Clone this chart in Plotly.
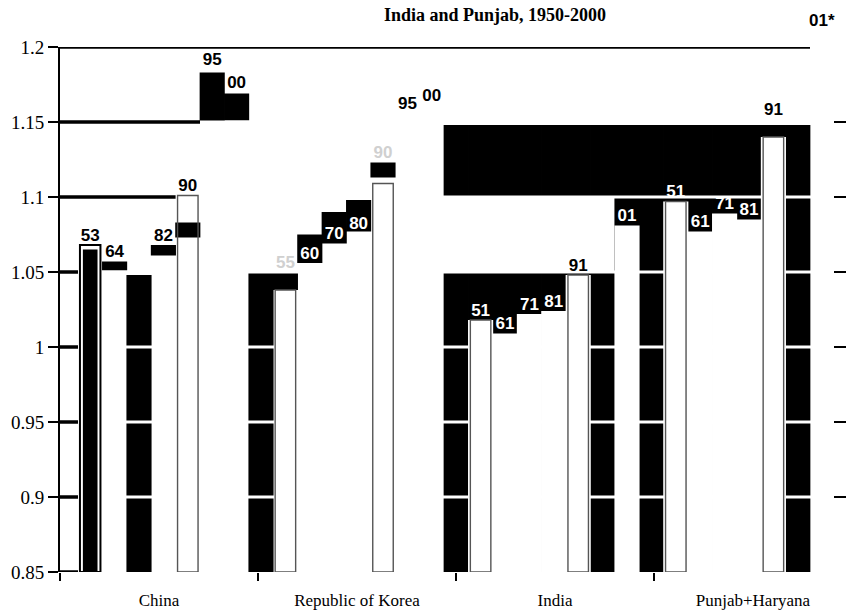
import plotly.graph_objects as go

# ---------------- data ----------------
FLOOR = 0.85
groups = ["China", "Republic of Korea", "India", "Punjab+Haryana"]

china_years = ["53", "64", "", "82", "90", "95", "00"]
china_ratio = [1.068, 1.057, None, 1.068, 1.101, 1.185, 1.170]
china_outline = [1.068, None, None, None, 1.101, None, None]
china_shade_lo = [None, 1.051, 0.85, 1.061, 1.073, 1.150, 1.151]
china_shade_hi = [None, 1.057, 1.048, 1.068, 1.083, 1.183, 1.169]
china_upper_lo = [None] * 7
china_upper_hi = [None] * 7

korea_years = ["", "55", "60", "70", "80", "90", "95", "00"]
korea_ratio = [None, 1.050, 1.056, 1.069, 1.076, 1.123, 1.156, 1.161]
korea_outline = [None, 1.038, None, None, None, 1.109, None, None]
korea_shade_lo = [0.85, 1.038, 1.056, 1.069, 1.077, 1.113, None, None]
korea_shade_hi = [1.05, 1.05, 1.075, 1.090, 1.098, 1.123, None, None]
korea_upper_lo = [None] * 8
korea_upper_hi = [None] * 8

india_years = ["", "51", "61", "71", "81", "91", "", "01"]
india_ratio = [None, 1.018, 1.009, 1.022, 1.024, 1.048, None, 1.081]
india_outline = [None, 1.018, None, None, None, 1.048, None, None]
india_shade_lo = [0.85, 0.85, 0.85, 0.85, 0.85, 0.85, 0.85, 0.85]
india_shade_hi = [1.05, 1.05, 1.05, 1.05, 1.05, 1.05, 1.05, 1.10]
india_upper_lo = [1.10] * 8
india_upper_hi = [1.148] * 8

punjab_years = ["", "51", "61", "71", "81", "91", "", "01*"]
punjab_ratio = [None, 1.097, 1.077, 1.089, 1.085, 1.152, None, 1.21]
punjab_outline = [None, 1.097, None, None, None, 1.140, None, None]
punjab_shade_lo = [0.85, 0.85, 0.85, 0.85, 0.85, 0.85, 0.85, None]
punjab_shade_hi = [1.10, 1.10, 1.10, 1.10, 1.10, 1.10, 1.10, None]
punjab_upper_lo = [1.10] * 7 + [None]
punjab_upper_hi = [1.148] * 7 + [None]

y_tick_vals = [0.85, 0.9, 0.95, 1.0, 1.05, 1.1, 1.15, 1.2]
y_tick_text = ["0.85", "0.9", "0.95", "1", "1.05", "1.1", "1.15", "1.2"]

# label colours (style)
W, K, L = "white", "black", "#d0d0d0"
china_lab_col = [K, K, K, K, K, K, K]
korea_lab_col = [K, L, W, W, W, L, K, K]
india_lab_col = [K, W, W, W, W, K, K, W]
punjab_lab_col = [K, W, W, W, W, K, K, K]

# ---------------- flatten into bar slots ----------------
years = china_years + korea_years + india_years + punjab_years
ratio = china_ratio + korea_ratio + india_ratio + punjab_ratio
outline = china_outline + korea_outline + india_outline + punjab_outline
shade_lo = china_shade_lo + korea_shade_lo + india_shade_lo + punjab_shade_lo
shade_hi = china_shade_hi + korea_shade_hi + india_shade_hi + punjab_shade_hi
upper_lo = china_upper_lo + korea_upper_lo + india_upper_lo + punjab_upper_lo
upper_hi = china_upper_hi + korea_upper_hi + india_upper_hi + punjab_upper_hi
lab_col = china_lab_col + korea_lab_col + india_lab_col + punjab_lab_col
slots = list(range(len(years)))

Y_RANGE = [FLOOR, 1.2]

# slot axis geometry (layout)
SLOT_PX = 24.4
FIRST_PX = 18
PLOT_W = 786
X2_RANGE = [-0.5 - FIRST_PX / SLOT_PX, -0.5 - FIRST_PX / SLOT_PX + PLOT_W / SLOT_PX]

SERIF = "Liberation Serif"
SANS = "Liberation Sans"

fig = go.Figure()

# base category subplot (group labels) and right tick axis
fig.add_trace(go.Scatter(x=groups, y=[FLOOR] * len(groups), mode="markers",
                         marker=dict(opacity=0), showlegend=False, hoverinfo="skip",
                         xaxis="x", yaxis="y"))
fig.add_trace(go.Scatter(x=groups, y=[FLOOR] * len(groups), mode="markers",
                         marker=dict(opacity=0), showlegend=False, hoverinfo="skip",
                         xaxis="x", yaxis="y3"))

# black blocks
idx = [i for i in slots if shade_lo[i] is not None]
fig.add_trace(go.Bar(x=idx, y=[shade_hi[i] - shade_lo[i] for i in idx],
                     base=[shade_lo[i] for i in idx], width=1.03,
                     marker=dict(color="black", line=dict(width=0)),
                     showlegend=False, hoverinfo="skip", xaxis="x2", yaxis="y"))
idx = [i for i in slots if upper_lo[i] is not None]
fig.add_trace(go.Bar(x=idx, y=[upper_hi[i] - upper_lo[i] for i in idx],
                     base=[upper_lo[i] for i in idx], width=1.03,
                     marker=dict(color="black", line=dict(width=0)),
                     showlegend=False, hoverinfo="skip", xaxis="x2", yaxis="y"))

# white data bars standing on black regions
idx = [i for i in slots if years[i] and ratio[i] is not None and shade_lo[i] == FLOOR]
white_top = [outline[i] if outline[i] is not None else ratio[i] for i in idx]
fig.add_trace(go.Bar(x=idx, y=[t - FLOOR for t in white_top], base=FLOOR, width=1.03,
                     marker=dict(color="white", line=dict(width=0)),
                     showlegend=False, hoverinfo="skip", xaxis="x2", yaxis="y"))

# white grid lines over the black areas
gx, gy = [], []
for v in y_tick_vals[1:-1]:
    gx += [X2_RANGE[0], X2_RANGE[1], None]
    gy += [v, v, None]
fig.add_trace(go.Scatter(x=gx, y=gy, mode="lines", line=dict(color="white", width=3),
                         showlegend=False, hoverinfo="skip", xaxis="x2", yaxis="y"))

# black grid segments from the axis up to the first taller bar
bx, by = [], []
for v in y_tick_vals:
    first = next(i for i in slots if ratio[i] is not None and ratio[i] > v)
    bx += [X2_RANGE[0], first - 0.5, None]
    by += [v, v, None]
fig.add_trace(go.Scatter(x=bx, y=by, mode="lines", line=dict(color="black", width=3.5),
                         showlegend=False, hoverinfo="skip", xaxis="x2", yaxis="y"))

# year labels inside the y range
idx = [i for i in slots if years[i] and ratio[i] <= Y_RANGE[1]]
fig.add_trace(go.Scatter(x=idx, y=[ratio[i] for i in idx], mode="text",
                         text=[years[i] for i in idx], textposition="top center",
                         textfont=dict(family=SANS, size=17, weight="bold",
                                       color=[lab_col[i] for i in idx]),
                         cliponaxis=False, showlegend=False, hoverinfo="skip",
                         xaxis="x2", yaxis="y"))

# overlay: outlined bars
idx = [i for i in slots if outline[i] is not None]
fig.add_trace(go.Bar(x=idx, y=[outline[i] - FLOOR for i in idx], base=FLOOR, width=0.84,
                     marker=dict(color="rgba(0,0,0,0)",
                                 line=dict(color=["black" if i == 0 else "#555555" for i in idx],
                                           width=[2 if i == 0 else 1.4 for i in idx])),
                     showlegend=False, hoverinfo="skip", xaxis="x3", yaxis="y4"))
fig.add_trace(go.Bar(x=[0], y=[outline[0] - FLOOR - 0.003], base=FLOOR, width=0.6,
                     marker=dict(color="black", line=dict(width=0)),
                     showlegend=False, hoverinfo="skip", xaxis="x3", yaxis="y4"))

# labels of values above the axis top (drawn as annotations)
annotations = [dict(text="<b>India and Punjab, 1950-2000</b>", xref="paper", yref="paper",
                    x=0.553, y=1.083, xanchor="center", yanchor="top", showarrow=False,
                    font=dict(family=SERIF, size=18, color="black"))]
for i in slots:
    if years[i] and ratio[i] > Y_RANGE[1]:
        annotations.append(dict(text=years[i], xref="x2", yref="paper", x=i,
                                y=(ratio[i] - Y_RANGE[0]) / (Y_RANGE[1] - Y_RANGE[0]),
                                xanchor="center", yanchor="bottom", showarrow=False,
                                font=dict(family=SANS, size=17, weight="bold",
                                          color=lab_col[i])))

fig.update_layout(
    width=846, height=614,
    margin=dict(l=60, r=0, t=47, b=42, autoexpand=False),
    paper_bgcolor="white", plot_bgcolor="white",
    barmode="overlay", showlegend=False,
    xaxis=dict(type="category", categoryorder="array", categoryarray=groups,
               range=[-0.5, 3.47], tickson="boundaries", ticks="outside", ticklen=8,
               tickwidth=2, tickcolor="black", showline=False, showgrid=False,
               zeroline=False, tickfont=dict(family=SERIF, size=17, color="black"),
               ticklabelstandoff=16, automargin=False),
    xaxis2=dict(overlaying="x", range=X2_RANGE, visible=False, automargin=False),
    xaxis3=dict(overlaying="x", range=X2_RANGE, visible=False, automargin=False),
    yaxis=dict(range=Y_RANGE, tickvals=y_tick_vals, ticktext=y_tick_text,
               ticks="outside", ticklen=10, tickwidth=2, tickcolor="black",
               showline=True, linewidth=2, linecolor="black", showgrid=False,
               zeroline=False, tickfont=dict(family=SERIF, size=19, color="black"),
               automargin=False),
    yaxis3=dict(overlaying="y", side="right", range=Y_RANGE, tickvals=y_tick_vals,
                ticks="inside", ticklen=12, tickwidth=2, tickcolor="black",
                showticklabels=False, showline=False, showgrid=False, zeroline=False,
                automargin=False),
    yaxis4=dict(overlaying="y", range=Y_RANGE, visible=False, automargin=False),
    annotations=annotations,
)

fig.write_html("out.html", config={"displayModeBar": False},
               post_script="document.body.style.margin='0';document.body.style.padding='0';")
